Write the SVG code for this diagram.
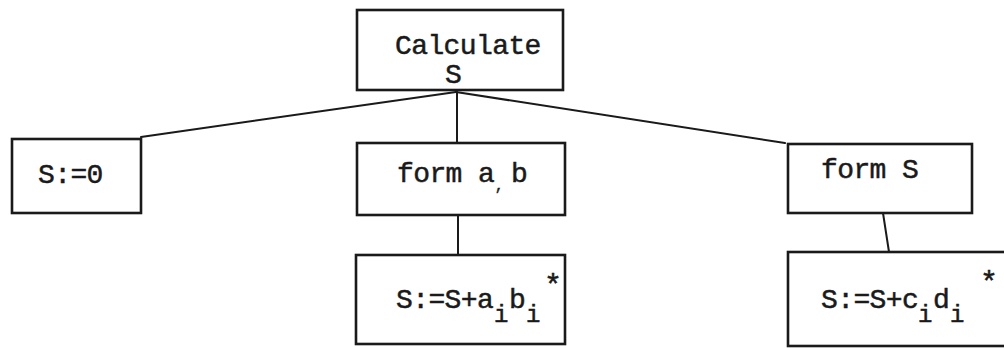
<svg xmlns="http://www.w3.org/2000/svg" width="1004" height="348" viewBox="0 0 1004 348">
<style>
  .box { fill: none; stroke: #1a1a1a; stroke-width: 2.6; }
  .conn { fill: none; stroke: #1a1a1a; stroke-width: 2; stroke-linecap: round; }
  .t { font-family: "Liberation Mono", "DejaVu Sans Mono", monospace; font-size: 28px; fill: #1a1a1a; stroke: #1a1a1a; stroke-width: 0.5; letter-spacing: -0.6px; }
  .sub { font-size: 24px; letter-spacing: 0; }
  .star { font-family: "Liberation Mono", monospace; font-size: 30px; fill: #1a1a1a; stroke: #1a1a1a; stroke-width: 0.5; }
</style>
<rect width="1004" height="348" fill="#ffffff"/>
<g id="connectors">
  <line class="conn" x1="456" y1="92" x2="141" y2="137"/>
  <line class="conn" x1="456" y1="92" x2="785" y2="143"/>
  <line class="conn" x1="457" y1="92" x2="457" y2="143"/>
  <line class="conn" x1="458" y1="216" x2="458" y2="255"/>
  <line class="conn" x1="883" y1="213" x2="889" y2="252"/>
</g>
<g id="node-calculate">
  <rect class="box" x="357" y="10" width="206" height="80"/>
  <text class="t" x="395" y="54">Calculate</text>
  <text class="t" x="445" y="83">S</text>
</g>
<g id="node-s0">
  <rect class="box" x="12" y="139" width="129" height="74"/>
  <text class="t" x="38" y="183">S:=0</text>
</g>
<g id="node-form-ab">
  <rect class="box" x="357" y="143" width="208" height="72"/>
  <text class="t" x="397" y="182">form a</text>
  <text class="t" x="495" y="190" style="font-size:14px">,</text>
  <text class="t" x="511" y="182">b</text>
</g>
<g id="node-sum-ab">
  <rect class="box" x="356" y="255" width="209" height="89"/>
  <text class="t" x="396" y="308">S:=S+a</text>
  <text class="t sub" x="494" y="322">i</text>
  <text class="t" x="509" y="308">b</text>
  <text class="t sub" x="526" y="322">i</text>
  <text class="star" x="544" y="295">*</text>
</g>
<g id="node-form-s">
  <rect class="box" x="788" y="144" width="184" height="69"/>
  <text class="t" x="821" y="178">form S</text>
</g>
<g id="node-sum-cd">
  <rect class="box" x="788" y="252" width="230" height="94"/>
  <text class="t" x="821" y="308">S:=S+c</text>
  <text class="t sub" x="918" y="322">i</text>
  <text class="t" x="933" y="308">d</text>
  <text class="t sub" x="950" y="322">i</text>
  <text class="star" x="980" y="292">*</text>
</g>
</svg>
